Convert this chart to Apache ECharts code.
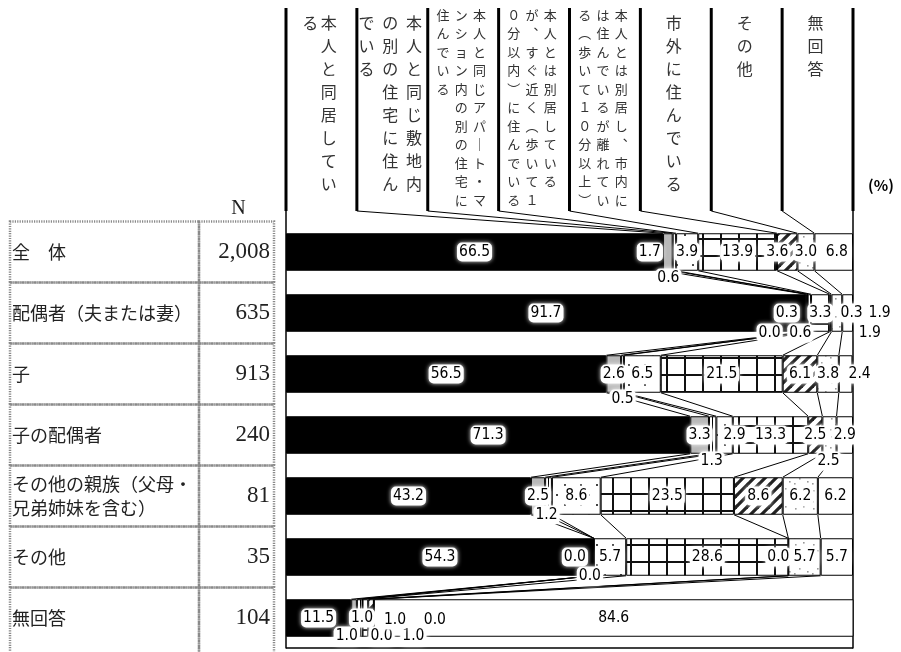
<!DOCTYPE html>
<html><head><meta charset="utf-8">
<script src="https://cdn.jsdelivr.net/npm/echarts@6/dist/echarts.min.js"></script>
<style>html,body{margin:0;padding:0;background:#fff}#c{width:901px;height:652px}</style>
</head><body><div id="c"></div>
<script>
// ---------- data ----------
const categories = ['全　体', '配偶者（夫または妻）', '子', '子の配偶者', 'その他の親族（父母・\n兄弟姉妹を含む）', 'その他', '無回答'];
const sampleSizes = [2008, 635, 913, 240, 81, 35, 104];
const seriesNames = [
  '本人と同居している',
  '本人と同じ敷地内の別の住宅に住んでいる',
  '本人と同じアパート・マンション内の別の住宅に住んでいる',
  '本人とは別居しているが、すぐ近く（歩いて10分以内）に住んでいる',
  '本人とは別居し、市内には住んでいるが離れている（歩いて10分以上）',
  '市外に住んでいる',
  'その他',
  '無回答'
];
// header text broken into vertical columns (right to left)
const headerLines = [
  ['本人と同居してい', 'る'],
  ['本人と同じ敷地内', 'の別の住宅に住ん', 'でいる'],
  ['本人と同じアパート・マ', 'ンション内の別の住宅に', '住んでいる'],
  ['本人とは別居している', 'が、すぐ近く（歩いて1', '0分以内）に住んでいる'],
  ['本人とは別居し、市内に', 'は住んでいるが離れてい', 'る（歩いて10分以上）'],
  ['市外に住んでいる'],
  ['その他'],
  ['無回答']
];
const vDoukyo   = [66.5, 91.7, 56.5, 71.3, 43.2, 54.3, 11.5];
const vShikichi = [1.7, 0.3, 2.6, 3.3, 2.5, 0.0, 1.0];
const vApart    = [0.6, 0.0, 0.5, 1.3, 1.2, 0.0, 1.0];
const vChikaku  = [3.9, 0.6, 6.5, 2.9, 8.6, 5.7, 0.0];
const vShinai   = [13.9, 3.3, 21.5, 13.3, 23.5, 28.6, 1.0];
const vShigai   = [3.6, 0.3, 6.1, 2.5, 8.6, 0.0, 1.0];
const vSonota   = [3.0, 1.9, 3.8, 2.5, 6.2, 5.7, 0.0];
const vMukaitou = [6.8, 1.9, 2.4, 2.9, 6.2, 5.7, 84.6];
const seriesValues = [vDoukyo, vShikichi, vApart, vChikaku, vShinai, vShigai, vSonota, vMukaitou];
const unitLabel = '(%)';
const nLabel = 'N';

// ---------- layout / style ----------
const BAR_H = 37.5;
const HEADER_TOP = 8, HEADER_BOTTOM = 211;
const headerColGap = [18.4, 23.7, 18.3, 18.3, 18.3, 0, 0, 0];
const headerSmall = [false, false, true, true, true, false, false, false];
const TABLE_X0 = 10, TABLE_X1 = 199, TABLE_X2 = 274;
// label offsets keyed "row-series"
const labelOffsets = {
  '0-1': [-18, 0], '0-2': [-6, 26], '0-5': [-10, 0], '0-7': [3, 0],
  '1-1': [-20, 0], '1-2': [-38, 20], '1-3': [-9, 20], '1-5': [21, 0], '1-6': [33, 20], '1-7': [32, 0],
  '2-2': [0, 25], '2-7': [14, 0],
  '3-2': [-1, 26], '3-3': [10, 0], '3-6': [-1, 26],
  '4-2': [-2, 19],
  '5-1': [-19, 0], '5-2': [-4, 19], '5-5': [-10, 0],
  '6-1': [8, 0], '6-2': [-13, 18], '6-3': [19, 18], '6-4': [48, 18], '6-5': [24, 2], '6-6': [61, 2]
};

function pattern(w, h, draw) {
  const c = document.createElement('canvas');
  c.width = w; c.height = h;
  const g = c.getContext('2d');
  g.fillStyle = '#fff'; g.fillRect(0, 0, w, h);
  draw(g);
  return { image: c, repeat: 'repeat' };
}
const fills = [
  '#000000',
  '#b8b8b8',
  pattern(4, 4, g => { g.fillStyle = '#000'; g.fillRect(0, 0, 1, 4); }),
  pattern(16, 20, g => { g.fillStyle = '#444'; g.fillRect(4, 4, 2, 2); g.fillRect(12, 14, 2, 2); }),
  pattern(18, 17, g => { g.fillStyle = '#111'; g.fillRect(0, 0, 2, 17); g.fillRect(0, 0, 18, 2); }),
  pattern(11, 11, g => {
    g.strokeStyle = '#222'; g.lineWidth = 3.2;
    [[-11, 0], [0, 0], [11, 0]].forEach(([dx]) => { g.beginPath(); g.moveTo(dx - 1, 12); g.lineTo(dx + 12, -1); g.stroke(); });
  }),
  pattern(18, 18, g => {
    g.fillStyle = '#999';
    [[3, 4], [11, 2], [7, 10], [15, 13], [2, 15]].forEach(([x, y]) => g.fillRect(x, y, 1.6, 1.6));
  }),
  '#ffffff'
];

const vertMap = { '（': '︵', '）': '︶', '、': '︑', 'ー': '｜', '1': '１', '0': '０' };
const toVert = s => Array.from(s).map(ch => vertMap[ch] || ch).join('\n');

// cumulative ends per row
const cumEnds = categories.map((_, r) => {
  let c = 0;
  return seriesValues.map(s => Math.min(100, (c += s[r])));
});

function renderDecor(params, api) {
  const xOf = v => api.coord([v, 0])[0];
  const yOf = r => api.coord([0, r])[1];
  const band = api.size([0, 1])[1];
  const half = BAR_H / 2;
  const ch = [];
  const line = (x1, y1, x2, y2, w) => ch.push({ type: 'line', shape: { x1, y1, x2, y2 }, style: { stroke: '#000', lineWidth: w || 1 } });
  const n = seriesNames.length;
  for (let k = 0; k <= n; k++) {
    const x = xOf(100 * k / n);
    line(x, HEADER_TOP, x, HEADER_BOTTOM, 3);
  }
  for (let k = 1; k < n; k++) {
    line(xOf(100 * k / n), HEADER_BOTTOM, xOf(cumEnds[0][k - 1]), yOf(0) - half, 1);
  }
  for (let r = 0; r < categories.length - 1; r++) {
    for (let k = 0; k < n - 1; k++) {
      line(xOf(cumEnds[r][k]), yOf(r) + half, xOf(cumEnds[r + 1][k]), yOf(r + 1) - half, 1);
    }
  }
  const yb = yOf(categories.length - 1) + band / 2;
  line(xOf(0), HEADER_BOTTOM, xOf(0), yb, 1.5);
  line(xOf(100), HEADER_BOTTOM, xOf(100), yb, 1.5);
  line(xOf(0), yb - 0.5, xOf(100), yb - 0.5, 1.5);
  headerLines.forEach((cols, i) => {
    const small = headerSmall[i];
    const fs = small ? 13 : 16;
    const step = small ? 18.5 : 23;
    const firstY = small ? 15 : 23;
    const cx = xOf(100 * (i + 0.5) / n) - 2;
    const m = cols.length;
    cols.forEach((txt, j) => {
      ch.push({
        type: 'text',
        style: {
          text: toVert(txt), x: cx + ((m - 1) / 2 - j) * headerColGap[i], y: firstY - step / 2,
          align: 'center', verticalAlign: 'top', lineHeight: step,
          font: fs + 'px "Noto Sans CJK JP"', fill: '#333'
        }
      });
    });
  });
  ch.push({ type: 'text', style: { text: unitLabel, x: xOf(100) + 28, y: 185, align: 'center', verticalAlign: 'middle', font: 'bold 15px "Noto Sans CJK JP"', fill: '#000' } });
  return { type: 'group', children: ch };
}

function renderTable(params, api) {
  const r = api.value(1);
  const cy = api.coord([0, r])[1];
  const band = api.size([0, 1])[1];
  const top = cy - band / 2;
  const last = r === categories.length - 1;
  const h = last ? band + 12 : band;
  const bs = { fill: 'none', stroke: '#8a8a8a', lineWidth: 2.5, lineDash: [1.2, 1.2] };
  const ch = [
    { type: 'rect', shape: { x: TABLE_X0, y: top, width: TABLE_X1 - TABLE_X0, height: h }, style: bs },
    { type: 'rect', shape: { x: TABLE_X1, y: top, width: TABLE_X2 - TABLE_X1, height: h }, style: bs },
    { type: 'text', style: { text: categories[r], x: TABLE_X0 + 2, y: cy, align: 'left', verticalAlign: 'middle', lineHeight: 24, font: '18px "Noto Sans CJK JP"', fill: '#222' } },
    { type: 'text', style: { text: sampleSizes[r].toLocaleString('en-US'), x: TABLE_X2 - 4, y: cy, align: 'right', verticalAlign: 'middle', font: '23px "Liberation Serif"', fill: '#222' } }
  ];
  if (r === 0) {
    ch.push({ type: 'text', style: { text: nLabel, x: (TABLE_X1 + TABLE_X2) / 2 + 2, y: top - 13, align: 'center', verticalAlign: 'middle', font: '20px "Liberation Serif"', fill: '#222' } });
  }
  return { type: 'group', children: ch };
}

const labelFont = '"DejaVu Sans Condensed","DejaVu Sans",sans-serif';
const barSeries = seriesNames.map((name, si) => ({
  type: 'bar', name, stack: 'total', barWidth: BAR_H, z: 3,
  itemStyle: { color: fills[si], borderColor: '#000', borderWidth: 1 },
  label: {
    show: true, position: 'inside', formatter: p => Number(p.value).toFixed(1),
    fontFamily: labelFont, fontSize: 15.5, color: '#000',
    backgroundColor: '#fff', padding: [2, 2, 1, 2], borderRadius: 5,
    shadowColor: 'rgba(255,255,255,0.9)', shadowBlur: 4
  },
  labelLayout: p => {
    const off = labelOffsets[p.dataIndex + '-' + si];
    return off ? { dx: off[0], dy: off[1], hideOverlap: false } : { hideOverlap: false };
  },
  data: seriesValues[si]
}));

const chart = echarts.init(document.getElementById('c'), null, { renderer: 'canvas' });
chart.setOption({
  animation: false,
  backgroundColor: '#fff',
  grid: { left: 286, right: 48, top: 221.5, bottom: 3.5 },
  xAxis: { type: 'value', min: 0, max: 100, show: false },
  yAxis: { type: 'category', data: categories, inverse: true, show: false },
  series: [
    { type: 'custom', name: 'decor', renderItem: renderDecor, data: [[0, 0]], z: 1, silent: true },
    { type: 'custom', name: 'table', renderItem: renderTable, data: categories.map((c, i) => [0, i]), z: 1, silent: true },
    ...barSeries
  ]
});
</script></body></html>
